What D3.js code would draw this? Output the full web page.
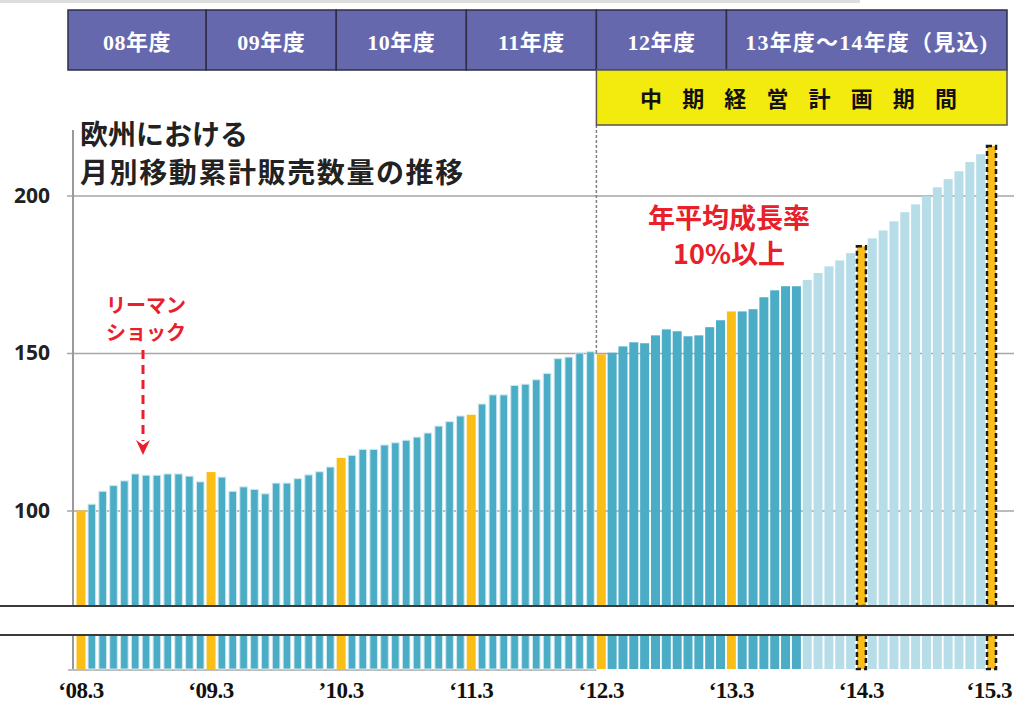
<!DOCTYPE html>
<html>
<head>
<meta charset="utf-8">
<script src="https://cdn.jsdelivr.net/npm/d3@7"></script>
<style>
  body { margin: 0; background: #fff; }
  svg { display: block; }
</style>
</head>
<body>
<script>
// months, March 2008 .. March 2015
const months = [
  '08.3', '08.4', '08.5', '08.6', '08.7', '08.8', '08.9', '08.10', '08.11', '08.12',
  '09.1', '09.2', '09.3', '09.4', '09.5', '09.6', '09.7', '09.8', '09.9', '09.10', '09.11', '09.12',
  '10.1', '10.2', '10.3', '10.4', '10.5', '10.6', '10.7', '10.8', '10.9', '10.10', '10.11', '10.12',
  '11.1', '11.2', '11.3', '11.4', '11.5', '11.6', '11.7', '11.8', '11.9', '11.10', '11.11', '11.12',
  '12.1', '12.2', '12.3', '12.4', '12.5', '12.6', '12.7', '12.8', '12.9', '12.10', '12.11', '12.12',
  '13.1', '13.2', '13.3', '13.4', '13.5', '13.6', '13.7', '13.8', '13.9', '13.10', '13.11', '13.12',
  '14.1', '14.2', '14.3', '14.4', '14.5', '14.6', '14.7', '14.8', '14.9', '14.10', '14.11', '14.12',
  '15.1', '15.2', '15.3'
]

// moving annual total index ('08.3 = 100)
const sales = [
  100.0, 102.0, 106.1, 107.9, 109.4, 111.6, 111.2, 111.2, 111.6, 111.6,
  110.9, 109.1, 112.2, 110.6, 106.1, 107.5, 106.7, 105.3, 108.7, 108.7, 110.1, 111.3,
  112.3, 113.8, 116.7, 117.5, 119.4, 119.4, 120.8, 121.5, 122.3, 123.3, 124.6, 126.8,
  128.2, 130.0, 130.4, 133.8, 136.7, 136.7, 139.7, 140.1, 141.5, 143.5, 148.2, 148.7,
  150.0, 150.4, 149.6, 150.1, 152.1, 153.4, 153.1, 155.6, 157.5, 156.9, 155.3, 155.6,
  158.2, 160.4, 163.2, 163.2, 163.9, 167.7, 169.9, 171.2, 171.2, 173.2, 175.4, 177.5,
  179.4, 181.7, 183.9, 186.4, 188.9, 191.8, 194.7, 197.2, 199.8, 202.6, 205.2, 207.7,
  210.6, 213.1, 215.7
]

const forecastFrom = '13.10'
const planFrom = '12.3'

const yTicks = [100, 150, 200]
const xTickMonths = ['08.3', '09.3', '10.3', '11.3', '12.3', '13.3', '14.3', '15.3']
const xTickLabels = ['‘08.3', '‘09.3', '’10.3', '‘11.3', '‘12.3', '‘13.3', '‘14.3', '‘15.3']

const fyLabels = ['08年度', '09年度', '10年度', '11年度', '12年度', '13年度～14年度（見込)']
const fyStarts = ['09.3', '10.3', '11.3', '12.3', '13.3']   // box edge sits just before these
const planChars = ['中', '期', '経', '営', '計', '画', '期', '間']

const titleLines = ['欧州における', '月別移動累計販売数量の推移']
const noteGrowth = ['年平均成長率', '10%以上']
const noteLehman = ['リーマン', 'ショック']

const W = 1014, H = 702
const breakTop = 606, breakBottom = 635, base = 669
const axisX = 73

const svg = d3.select('body').append('svg').attr('width', W).attr('height', H)

const x = d3.scalePoint().domain(months).range([81, 991.5])
const step = x.step()
const y = d3.scaleLinear().domain([100, 200]).range([510.5, 195.5])
const yLow = d3.scaleLinear().domain([0, 1]).range([base, breakBottom])

const idx = m => months.indexOf(m)
const edgeBefore = m => x(m) - step * 0.45
const leftEdge = x(months[0]) - 13
const rightEdge = x(months[months.length - 1]) + 15.5

// faint slide edge
svg.append('rect').attr('x', 0).attr('y', 0).attr('width', 860).attr('height', 3).attr('fill', '#ddd')

// gridlines + y labels
const yAxis = d3.axisLeft(y).tickValues(yTicks).tickSizeInner(-(W - 67)).tickSizeOuter(0).tickPadding(17)
const gy = svg.append('g').attr('transform', 'translate(67,0)').call(yAxis)
gy.select('.domain').remove()
gy.selectAll('line').attr('stroke', '#a6a6a6').attr('stroke-width', 1.5)
gy.selectAll('text')
    .attr('font-family', '"Open Sans", sans-serif')
    .attr('font-weight', 'bold')
    .attr('font-size', 21)
    .attr('fill', '#222')

// y axis line (both segments)
svg.append('line').attr('x1', axisX).attr('x2', axisX).attr('y1', 130).attr('y2', breakTop)
    .attr('stroke', '#9a9a9a').attr('stroke-width', 2)
svg.append('line').attr('x1', axisX).attr('x2', axisX).attr('y1', breakBottom).attr('y2', base)
    .attr('stroke', '#9a9a9a').attr('stroke-width', 2)

// grey baseline under actual bars
svg.append('line').attr('x1', 68).attr('x2', edgeBefore(planFrom)).attr('y1', base + 1).attr('y2', base + 1)
    .attr('stroke', '#bdbdbd').attr('stroke-width', 2)

// plan period divider
svg.append('line')
    .attr('x1', edgeBefore(planFrom)).attr('x2', edgeBefore(planFrom))
    .attr('y1', 125).attr('y2', y(150))
    .attr('stroke', '#808080').attr('stroke-width', 1.5).attr('stroke-dasharray', '3,2')

// bars
const data = months.map((m, i) => ({
    m, v: sales[i],
    march: m.endsWith('.3'),
    forecast: i >= idx(forecastFrom),
    early: i < idx(planFrom)
}))
const fillOf = d => d.march ? '#fbbe16' : (d.forecast ? '#b7dde8' : '#4bacc6')

function drawBars(sel, top, bottom) {
    sel.each(function (d) {
        const w = d.march || !d.early ? 9 : 7.6
        const r = d3.select(this).append('rect')
            .attr('x', x(d.m) - w / 2)
            .attr('y', top(d))
            .attr('width', w)
            .attr('height', bottom - top(d))
            .attr('fill', fillOf(d))
        if (d.early && !d.march) r.attr('stroke', '#cfe8f0').attr('stroke-width', 1)
        if (d.march && d.forecast) {
            r.attr('stroke', '#1a1a1a').attr('stroke-width', 2.5).attr('stroke-dasharray', '5,3')
        }
    })
}

const gBars = svg.append('g')
gBars.selectAll('g').data(data).join('g').call(drawBars, d => y(d.v), breakTop)
const gLow = svg.append('g')
gLow.selectAll('g').data(data).join('g').call(drawBars, () => yLow(1), base)

// axis break
svg.append('rect').attr('x', 0).attr('y', breakTop).attr('width', W).attr('height', breakBottom - breakTop).attr('fill', '#fff')
;[breakTop, breakBottom].forEach(yy => {
    svg.append('line').attr('x1', 0).attr('x2', W).attr('y1', yy).attr('y2', yy)
        .attr('stroke', '#3a3a3a').attr('stroke-width', 2)
})

// x labels (last one kept inside the frame)
svg.append('g').selectAll('text').data(xTickMonths).join('text')
    .attr('x', (d, i) => i === xTickMonths.length - 1 ? W - 2 : x(d))
    .attr('y', 698)
    .attr('text-anchor', (d, i) => i === xTickMonths.length - 1 ? 'end' : 'middle')
    .attr('font-family', '"Liberation Serif", serif')
    .attr('font-weight', 'bold')
    .attr('font-size', 23)
    .attr('letter-spacing', -0.5)
    .attr('fill', '#111')
    .text((d, i) => xTickLabels[i])

// fiscal year header
const fyEdges = [leftEdge].concat(fyStarts.map(edgeBefore), [rightEdge])
const gHead = svg.append('g')
fyLabels.forEach((lab, i) => {
    gHead.append('rect')
        .attr('x', fyEdges[i]).attr('y', 10)
        .attr('width', fyEdges[i + 1] - fyEdges[i]).attr('height', 60)
        .attr('fill', '#6668ae').attr('stroke', '#2e2e48').attr('stroke-width', 1.5)
    gHead.append('text')
        .attr('x', (fyEdges[i] + fyEdges[i + 1]) / 2).attr('y', 50)
        .attr('text-anchor', 'middle')
        .attr('font-family', '"Liberation Serif", "Noto Sans CJK JP", serif')
        .attr('font-weight', 'bold')
        .attr('font-size', 22)
        .attr('letter-spacing', i === 5 ? 1.2 : 0.5)
        .attr('fill', '#fff')
        .text(lab)
})

// plan period box
const px0 = edgeBefore(planFrom)
svg.append('rect').attr('x', px0).attr('y', 70).attr('width', rightEdge - px0).attr('height', 55)
    .attr('fill', '#f4eb0e').attr('stroke', '#555').attr('stroke-width', 1.5)
const pc = d3.scalePoint().domain(d3.range(planChars.length)).range([651, 946])
svg.append('g').selectAll('text').data(planChars).join('text')
    .attr('x', (d, i) => pc(i)).attr('y', 107)
    .attr('text-anchor', 'middle')
    .attr('font-family', '"Noto Sans CJK JP", sans-serif')
    .attr('font-weight', 'bold')
    .attr('font-size', 22)
    .attr('fill', '#111')
    .text(d => d)

// title
svg.append('g').selectAll('text').data(titleLines).join('text')
    .attr('x', 80).attr('y', (d, i) => 145 + i * 38)
    .attr('font-family', '"Noto Sans CJK JP", sans-serif')
    .attr('font-weight', 'bold')
    .attr('font-size', 28)
    .attr('letter-spacing', (d, i) => i ? 1.6 : 0)
    .attr('fill', '#222')
    .text(d => d)

// growth note
svg.append('g').selectAll('text').data(noteGrowth).join('text')
    .attr('x', 729).attr('y', (d, i) => 228 + i * 36)
    .attr('text-anchor', 'middle')
    .attr('font-family', '"Noto Sans CJK JP", sans-serif')
    .attr('font-weight', 'bold')
    .attr('font-size', 27)
    .attr('fill', '#e8202a')
    .text(d => d)

// lehman note + arrow
svg.append('g').selectAll('text').data(noteLehman).join('text')
    .attr('x', 146).attr('y', (d, i) => 313 + i * 27)
    .attr('text-anchor', 'middle')
    .attr('font-family', '"Noto Sans CJK JP", sans-serif')
    .attr('font-weight', 'bold')
    .attr('font-size', 20)
    .attr('fill', '#e8202a')
    .text(d => d)
svg.append('line').attr('x1', 143).attr('x2', 143).attr('y1', 350).attr('y2', 441)
    .attr('stroke', '#e8202a').attr('stroke-width', 3).attr('stroke-dasharray', '9,6')
svg.append('path').attr('d', 'M136,440 L143,455 L150,440 L143,445 Z').attr('fill', '#e8202a')
</script>
</body>
</html>
